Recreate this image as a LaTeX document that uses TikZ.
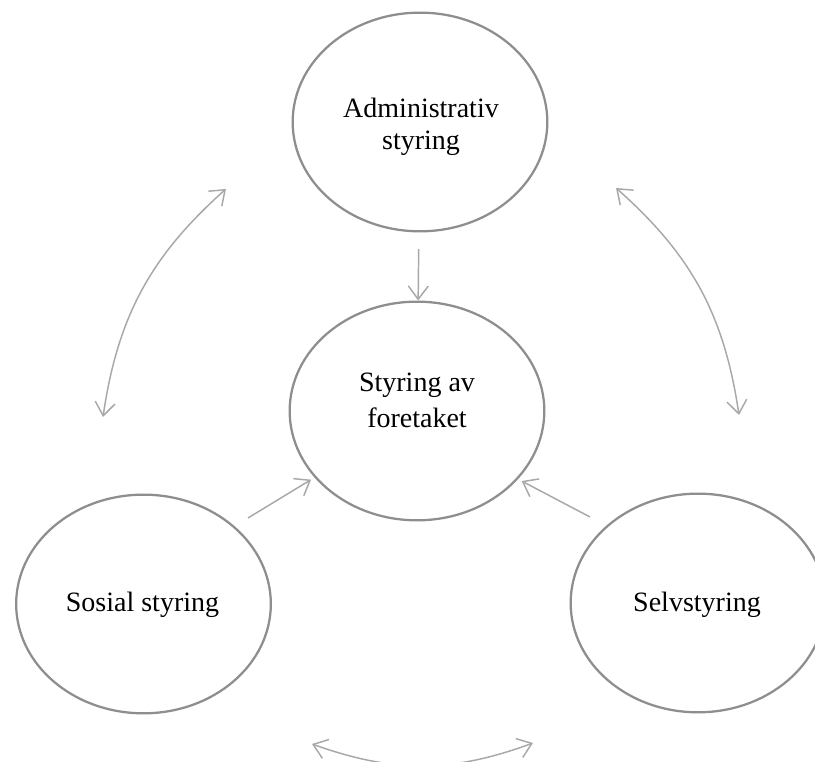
\documentclass[tikz,border=0pt]{standalone}
\usepackage{fontspec}
\setmainfont{Liberation Serif}
\usetikzlibrary{arrows.meta,shapes.geometric}
\definecolor{ellgray}{HTML}{8E8E8E}
\definecolor{arrgray}{HTML}{A8A8A8}
\begin{document}
\begin{tikzpicture}[x=0.75pt,y=0.75pt,
  >={Straight Barb[length=10pt,width=15pt]},
  bubble/.style={ellipse,draw=ellgray,line width=1.7pt,minimum width=191pt,minimum height=164pt,inner sep=0pt},
  lbl/.style={align=center,inner sep=0pt,text=black},
  arr/.style={draw=arrgray,line width=1.1pt}]
\useasboundingbox (0,0) rectangle (815,762);
\clip (0,0) rectangle (815,762);
% ellipses
\node[bubble] (adm) at (420,640) {};
\node[bubble] (sty) at (417,351) {};
\node[bubble] (sos) at (143.5,158) {};
\node[bubble] (selv) at (698,159) {};
% texts
\node[lbl,font=\fontsize{21}{24}\selectfont] (admt) at (421,635) {Administrativ\\styring};
\node[lbl,font=\fontsize{21}{27}\selectfont] (styt) at (417,362) {Styring av\\foretaket};
\node[lbl,font=\fontsize{21}{24}\selectfont] (sost) at (142.5,157) {Sosial styring};
\node[lbl,font=\fontsize{21}{24}\selectfont] (selvt) at (697,157) {Selvstyring};
% straight arrows
\draw[arr,->,shorten <=12.5pt] (adm) -- (sty);
\coordinate (p1) at (248,244);
\coordinate (p2) at (590,245);
\draw[arr,->,shorten >=3pt] (p1) -- (sty.213);
\draw[arr,->,shorten >=3pt] (p2) -- (sty.-34);
% curved double arrows
\coordinate (c1) at (103,345);
\coordinate (c2) at (226,573);
\coordinate (c3) at (616,574);
\coordinate (c4) at (739,347);
\coordinate (c5) at (312,18);
\coordinate (c6) at (533,19);
\draw[arr,<->] (c1) to[bend left=20] (c2);
\draw[arr,<->] (c3) to[bend left=20] (c4);
\draw[arr,<->] (c5) to[bend right=20] (c6);
\end{tikzpicture}
\end{document}
